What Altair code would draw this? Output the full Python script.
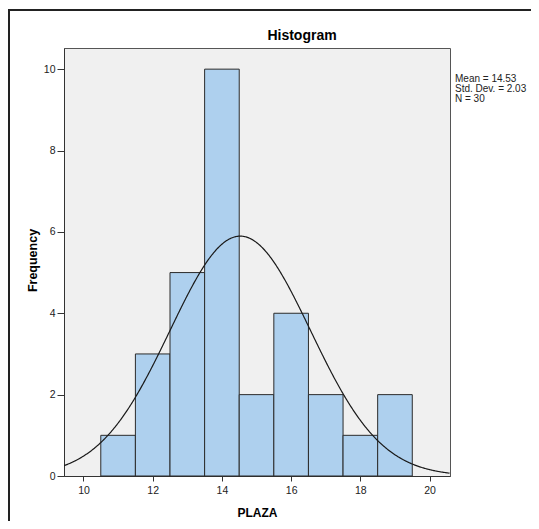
import altair as alt
import pandas as pd

# Histogram data (PLAZA)
bin_start = [10.5, 11.5, 12.5, 13.5, 14.5, 15.5, 16.5, 17.5, 18.5]
bin_end = [11.5, 12.5, 13.5, 14.5, 15.5, 16.5, 17.5, 18.5, 19.5]
counts = [1, 3, 5, 10, 2, 4, 2, 1, 2]

mean = 14.53
sd = 2.03
n = 30
bin_width = 1.0

x_ticks = [10, 12, 14, 16, 18, 20]
y_ticks = [0, 2, 4, 6, 8, 10]
stats_lines = ["Mean = 14.53", "Std. Dev. = 2.03", "N = 30"]
title_text = "Histogram"

x_domain = [9.437, 20.59]
y_domain = [0, 10.52]

FONT = "Liberation Sans"

df = pd.DataFrame({"start": bin_start, "end": bin_end, "count": counts})
one = pd.DataFrame({"t": [0]})

xs = alt.Scale(domain=x_domain, nice=False, zero=False)
ys = alt.Scale(domain=y_domain, nice=False)

x_axis = alt.Axis(values=x_ticks, title="PLAZA", grid=False, tickSize=5,
                  labelFontSize=10.5, labelColor="#222", labelFont=FONT,
                  titleFont=FONT, titleFontSize=12, titleFontWeight="bold",
                  titleColor="#000", titleY=36, titleBaseline="middle",
                  domainColor="#333", tickColor="#333", labelPadding=4)
y_axis = alt.Axis(values=y_ticks, title="Frequency", grid=False, tickSize=7,
                  labelFontSize=10.5, labelColor="#222", labelFont=FONT,
                  titleFont=FONT, titleFontSize=12.5, titleFontWeight="bold",
                  titleColor="#000", titleX=-32, titleY=212,
                  titleBaseline="middle", titleAlign="center", titleAngle=270,
                  domainColor="#333", tickColor="#333", labelPadding=2)

bars = alt.Chart(df).mark_rect(fill="#AED0EE", stroke="#2b2b2b", strokeWidth=1).encode(
    x=alt.X("start:Q", scale=xs, axis=x_axis),
    x2="end:Q",
    y=alt.Y("count:Q", scale=ys, axis=y_axis),
    y2=alt.datum(0),
)

curve = alt.Chart(
    alt.sequence(start=x_domain[0], stop=x_domain[1], step=0.02, as_="x")
).transform_calculate(
    y=f"{n * bin_width} / ({sd} * sqrt(2 * PI)) * exp(-0.5 * pow((datum.x - {mean}) / {sd}, 2))"
).mark_line(color="#1a1a1a", strokeWidth=1.2, clip=True).encode(
    x=alt.X("x:Q", scale=xs),
    y=alt.Y("y:Q", scale=ys),
)

stats = alt.Chart(one).mark_text(
    align="left", baseline="top", fontSize=10, lineHeight=10,
    font=FONT, color="#222"
).encode(
    x=alt.value(391), y=alt.value(26), text=alt.value(stats_lines)
)

title = alt.Chart(one).mark_text(
    align="center", baseline="alphabetic", fontSize=14, fontWeight="bold",
    font=FONT, color="#000"
).encode(
    x=alt.value(238), y=alt.value(-8.5), text=alt.value(title_text)
)

frame_v = alt.Chart(one).mark_rule(color="#222", strokeWidth=2).encode(
    x=alt.value(-55), y=alt.value(-38), y2=alt.value(490)
)
frame_h = alt.Chart(one).mark_rule(color="#222", strokeWidth=2).encode(
    x=alt.value(-56), x2=alt.value(480), y=alt.value(-38)
)

chart = alt.layer(bars, curve, stats, title, frame_v, frame_h).properties(
    width=386, height=428,
    autosize=alt.AutoSizeParams(type="none"),
    padding={"left": 56, "top": 40, "right": 81, "bottom": 45},
    background="white",
).configure_view(
    fill="#F0F0F0", stroke="#555", strokeWidth=1
)

chart.save("out.html", embed_options={"renderer": "svg", "actions": False})
